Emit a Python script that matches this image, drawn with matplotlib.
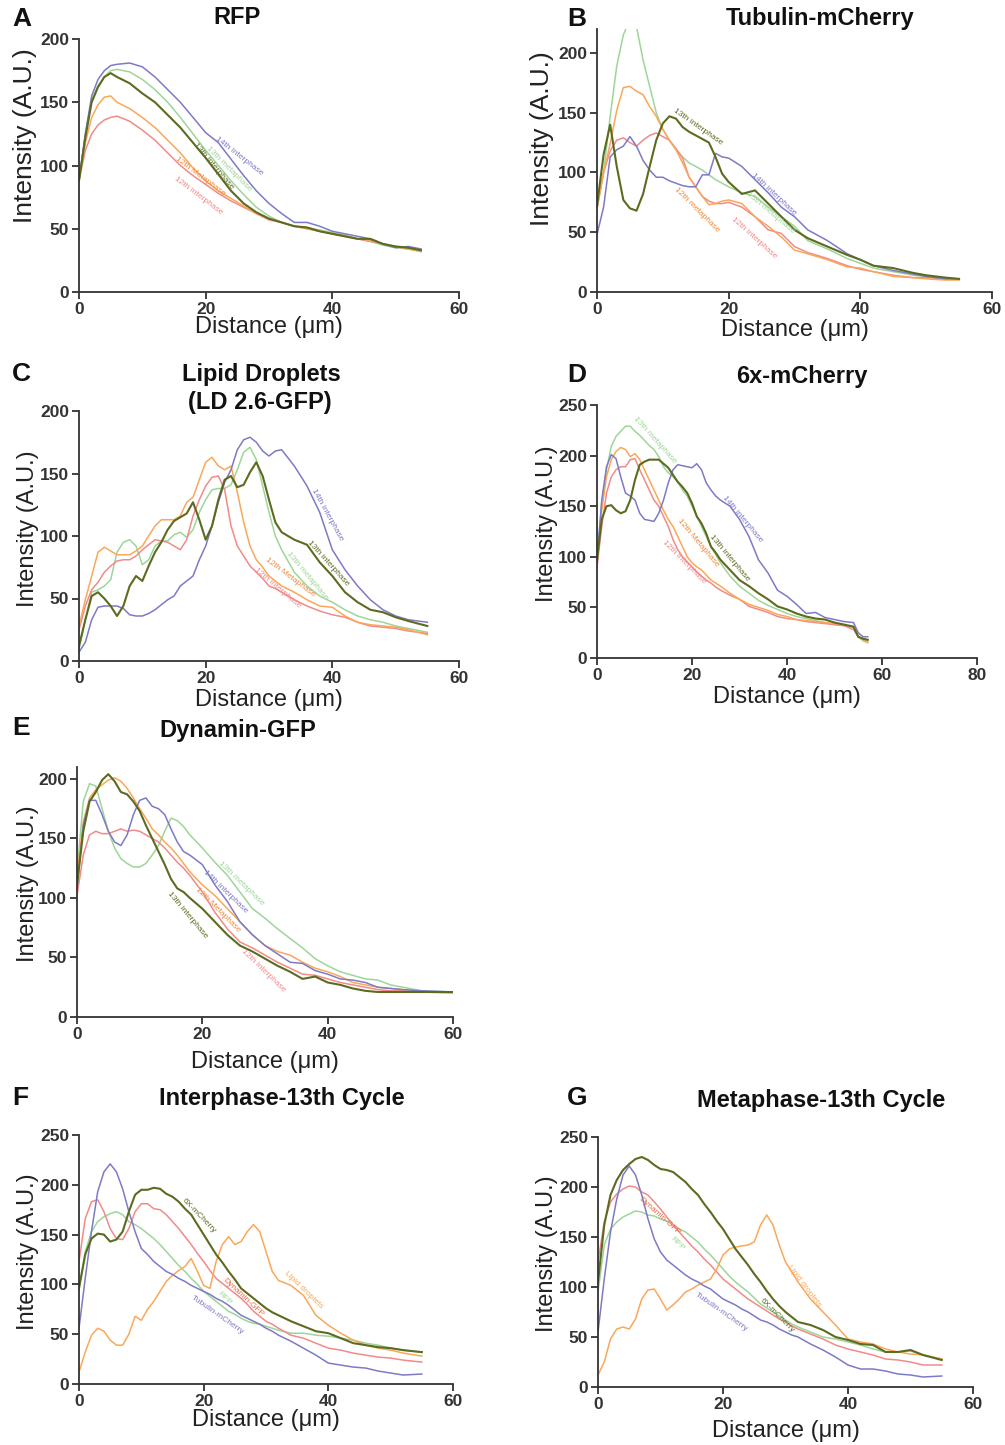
import matplotlib
matplotlib.use("Agg")
import matplotlib.pyplot as plt

plt.rcParams['font.family'] = ['Liberation Sans', 'DejaVu Sans']

W, H = 1005, 1445

PINK = "#F28A8A"
ORANGE = "#F9A85A"
OLIVE = "#5D6B20"
GREEN = "#9DD698"
PURPLE = "#7D7AC6"

# ---- A: RFP ----
A_X = [0, 1, 2, 3, 4, 5, 6, 8, 10, 12, 14, 16, 18, 20, 22, 24, 26, 28, 30, 32, 34, 36, 38, 40, 42, 44, 46, 48, 50, 52, 54]
A_12I = [88, 112, 125, 132, 136, 138, 139, 135, 128, 120, 110, 100, 92, 85, 78, 72, 67, 62, 57, 55, 52, 50, 48, 46, 44, 42, 40, 38, 36, 34, 33]
A_12M = [88, 118, 138, 148, 154, 155, 150, 145, 138, 130, 120, 110, 98, 88, 80, 74, 68, 62, 58, 55, 52, 50, 48, 46, 44, 42, 41, 38, 36, 34, 32]
A_13I = [88, 122, 150, 162, 170, 173, 170, 165, 157, 150, 140, 130, 118, 106, 93, 80, 70, 63, 58, 55, 52, 51, 48, 46, 44, 42, 42, 38, 36, 35, 33]
A_13M = [88, 125, 152, 163, 170, 175, 176, 174, 168, 160, 150, 138, 125, 112, 100, 88, 77, 67, 60, 55, 52, 51, 49, 47, 45, 42, 40, 37, 35, 34, 32]
A_14I = [88, 125, 155, 168, 175, 179, 180, 181, 178, 170, 160, 150, 138, 126, 118, 105, 92, 80, 70, 62, 55, 55, 52, 48, 46, 44, 42, 38, 35, 36, 34]

# ---- B: Tubulin-mCherry ----
B_X = [0, 1, 2, 3, 4, 5, 6, 7, 8, 9, 10, 11, 12, 13, 14, 15, 16, 17, 18, 19, 20, 22, 24, 26, 28, 30, 32, 35, 38, 40, 42, 45, 48, 50, 53, 55]
B_12I = [70, 100, 118, 127, 129, 125, 122, 127, 131, 133, 130, 127, 120, 112, 96, 88, 80, 76, 74, 74, 75, 71, 63, 52, 49, 38, 33, 28, 22, 19, 17, 14, 12, 12, 11, 11]
B_12M = [70, 100, 124, 152, 171, 172, 168, 165, 155, 147, 136, 127, 119, 108, 96, 88, 80, 73, 74, 76, 77, 74, 63, 55, 46, 35, 32, 27, 21, 20, 17, 13, 12, 11, 10, 10]
B_13I = [72, 115, 140, 105, 77, 70, 68, 82, 105, 127, 141, 147, 145, 138, 134, 131, 128, 125, 113, 99, 92, 82, 85, 74, 63, 52, 45, 38, 31, 27, 22, 20, 16, 14, 12, 11]
B_13M = [70, 100, 147, 189, 215, 228, 222, 194, 172, 150, 136, 127, 119, 113, 108, 105, 102, 98, 94, 91, 88, 83, 80, 71, 63, 55, 43, 36, 28, 24, 20, 17, 14, 13, 11, 11]
B_14I = [48, 71, 113, 119, 122, 130, 122, 110, 102, 96, 96, 93, 91, 89, 88, 88, 98, 98, 116, 113, 112, 105, 94, 83, 71, 63, 52, 43, 32, 27, 22, 18, 15, 13, 11, 11]

# ---- C: Lipid droplets ----
C_X = [0, 1, 2, 3, 4, 5, 6, 7, 8, 9, 10, 11, 12, 13, 14, 15, 16, 17, 18, 19, 20, 21, 22, 23, 24, 25, 26, 27, 28, 29, 30, 31,
       32, 34, 36, 38, 40, 42, 44, 46, 48, 50, 52, 55]
C_12I = [25, 44, 57, 63, 71, 76, 80, 81, 81, 84, 89, 93, 97, 96, 95, 92, 89, 97, 116, 129, 140, 147, 148, 137, 108, 92, 84, 76, 71, 66, 60, 58,
         55, 49, 44, 40, 37, 35, 31, 28, 27, 26, 24, 22]
C_12M = [28, 49, 68, 87, 91, 88, 85, 85, 85, 88, 92, 100, 108, 113, 113, 113, 116, 127, 131, 145, 159, 163, 156, 153, 156, 135, 111, 92, 81, 75, 68, 64,
         60, 55, 49, 44, 43, 36, 31, 29, 28, 27, 25, 21]
C_13I = [12, 33, 52, 55, 50, 44, 36, 44, 60, 68, 64, 76, 87, 95, 105, 112, 115, 118, 127, 113, 97, 108, 129, 145, 148, 139, 141, 151, 159, 148, 129, 111,
         103, 97, 93, 79, 68, 55, 47, 41, 39, 35, 32, 28]
C_13M = [9, 33, 55, 57, 60, 65, 87, 95, 97, 92, 77, 81, 92, 96, 96, 101, 103, 99, 105, 119, 129, 137, 138, 138, 141, 153, 167, 171, 161, 140, 119, 100,
         89, 71, 60, 52, 47, 41, 36, 33, 31, 28, 26, 23]
C_14I = [7, 15, 33, 43, 44, 44, 44, 42, 37, 36, 36, 38, 41, 45, 49, 52, 60, 64, 68, 81, 92, 108, 127, 143, 153, 169, 177, 179, 175, 168, 164, 168,
         169, 156, 140, 119, 89, 73, 60, 49, 41, 36, 33, 31]

# ---- D: 6x-mCherry ----
D_X = [0, 1, 2, 3, 4, 5, 6, 7, 8, 9, 10, 11, 12, 13, 14, 15, 16, 17, 18, 19, 20, 21, 22, 23, 24, 25,
       26, 28, 30, 32, 34, 36, 38, 40, 42, 44, 46, 48, 50, 52, 54, 55, 56, 57]
D_12I = [90, 130, 163, 179, 186, 189, 189, 196, 197, 186, 176, 166, 156, 150, 140, 130, 117, 107, 100, 95, 90, 85, 81, 77, 74, 70,
         67, 62, 58, 51, 48, 45, 41, 39, 38, 36, 35, 34, 33, 32, 28, 21, 19, 18]
D_12M = [94, 146, 179, 196, 204, 208, 206, 199, 202, 196, 186, 176, 166, 156, 146, 137, 130, 120, 110, 100, 94, 90, 87, 82, 77, 74,
         71, 64, 58, 53, 50, 47, 43, 41, 38, 37, 36, 35, 34, 33, 30, 21, 18, 16]
D_13I = [97, 137, 150, 151, 146, 143, 145, 156, 176, 191, 194, 196, 196, 196, 192, 188, 181, 174, 169, 163, 153, 140, 133, 123, 110, 104,
         97, 87, 77, 71, 64, 58, 51, 48, 44, 41, 39, 38, 35, 33, 31, 21, 19, 18]
D_13M = [90, 153, 186, 209, 219, 224, 229, 229, 224, 220, 215, 210, 206, 199, 189, 183, 179, 174, 166, 160, 150, 140, 130, 120, 110, 102,
         94, 81, 71, 64, 57, 52, 48, 44, 41, 39, 37, 35, 33, 32, 31, 21, 17, 15]
D_14I = [97, 156, 189, 201, 197, 179, 163, 160, 156, 143, 137, 136, 135, 143, 156, 173, 186, 191, 190, 189, 188, 192, 186, 173, 166, 160,
         156, 150, 137, 120, 97, 84, 67, 61, 53, 44, 45, 40, 38, 36, 35, 25, 21, 21]

# ---- E: Dynamin-GFP ----
E_X = [0, 1, 2, 3, 4, 5, 6, 7, 8, 9, 10, 11, 12, 13, 14, 15, 16, 17, 18,
       20, 22, 24, 26, 28, 30, 32, 34, 36, 38, 40, 42, 44, 46, 48, 50, 52, 55, 60]
E_12I = [102, 136, 153, 156, 154, 154, 156, 158, 156, 157, 156, 153, 150, 147, 142, 136, 130, 125, 119,
         105, 88, 74, 63, 58, 52, 46, 41, 36, 35, 32, 29, 27, 25, 23, 22, 22, 21, 21]
E_12M = [119, 164, 184, 191, 195, 199, 201, 198, 192, 184, 175, 167, 158, 153, 147, 142, 136, 129, 122,
         111, 102, 91, 80, 69, 60, 55, 52, 46, 41, 38, 34, 29, 27, 25, 24, 23, 21, 20]
E_13I = [111, 156, 181, 189, 199, 204, 198, 189, 187, 181, 173, 161, 150, 139, 128, 116, 108, 105, 100,
         91, 80, 69, 60, 55, 49, 43, 38, 32, 34, 29, 27, 24, 22, 21, 21, 21, 21, 21]
E_13M = [122, 181, 196, 194, 175, 156, 142, 133, 129, 126, 126, 129, 136, 144, 156, 167, 165, 160, 153,
         142, 130, 119, 105, 91, 83, 74, 66, 58, 49, 43, 38, 35, 32, 31, 27, 25, 22, 21]
E_14I = [108, 161, 182, 182, 170, 156, 147, 144, 153, 170, 182, 184, 177, 175, 170, 158, 147, 139, 136,
         128, 111, 97, 80, 69, 60, 53, 46, 45, 39, 36, 32, 31, 29, 25, 24, 23, 22, 21]

# ---- F: Interphase-13th cycle ----
F_X = [0, 1, 2, 3, 4, 5, 6, 7, 8, 9, 10, 11, 12, 13, 14, 15, 16, 17, 18, 19, 20, 21, 22, 23, 24, 25, 26, 27, 28, 29, 30, 31,
       32, 34, 36, 38, 40, 42, 44, 46, 48, 50, 52, 55]
F_RFP = [96, 133, 153, 163, 168, 171, 173, 170, 163, 160, 156, 151, 146, 140, 133, 126, 119, 113, 106, 100, 93, 88, 83, 78, 73, 70, 66, 63, 61, 60, 58, 56,
         54, 51, 51, 49, 48, 46, 44, 41, 39, 36, 34, 32]
F_TUB = [56, 106, 153, 193, 213, 221, 213, 196, 173, 153, 136, 130, 123, 118, 113, 110, 106, 103, 99, 96, 93, 90, 86, 83, 79, 74, 69, 66, 63, 60, 56, 53,
         49, 43, 36, 29, 21, 19, 17, 16, 13, 11, 9, 10]
F_DYN = [123, 166, 183, 185, 173, 156, 146, 145, 156, 173, 181, 181, 176, 175, 170, 163, 156, 148, 140, 131, 123, 114, 106, 101, 96, 91, 86, 80, 73, 68, 63, 60,
         56, 49, 46, 41, 36, 34, 31, 29, 27, 26, 24, 22]
F_6X = [96, 130, 146, 151, 150, 143, 145, 153, 173, 190, 195, 195, 197, 196, 191, 188, 183, 176, 170, 160, 150, 140, 130, 122, 113, 105, 96, 91, 86, 81, 76, 72,
        69, 63, 58, 53, 51, 46, 41, 39, 37, 36, 34, 32]
F_LIP = [12, 32, 49, 56, 53, 44, 39, 39, 50, 68, 64, 75, 83, 93, 103, 109, 114, 118, 126, 113, 99, 96, 123, 140, 148, 140, 143, 153, 160, 153, 133, 113,
         104, 99, 89, 69, 59, 51, 44, 39, 36, 34, 31, 28]

# ---- G: Metaphase-13th cycle ----
G_X = F_X
G_RFP = [95, 142, 158, 165, 170, 173, 176, 175, 172, 171, 168, 166, 162, 158, 155, 150, 145, 138, 132, 125, 118, 111, 105, 100, 95, 89, 83, 79, 75, 71, 67, 63,
         60, 55, 50, 48, 45, 42, 38, 35, 35, 36, 32, 28]
G_TUB = [55, 108, 155, 188, 212, 221, 212, 192, 168, 148, 135, 127, 122, 117, 112, 108, 105, 101, 98, 93, 88, 85, 82, 78, 75, 71, 67, 65, 62, 58, 55, 52,
         50, 43, 37, 30, 22, 18, 18, 16, 13, 12, 10, 11]
G_DYN = [125, 165, 185, 193, 198, 201, 200, 195, 192, 185, 178, 170, 162, 155, 148, 141, 135, 128, 122, 115, 108, 103, 98, 93, 88, 84, 80, 76, 72, 68, 65, 61,
         58, 53, 48, 42, 38, 35, 32, 28, 27, 25, 22, 22]
G_6X = [105, 162, 192, 207, 217, 223, 228, 230, 227, 222, 218, 217, 215, 210, 205, 198, 192, 183, 175, 166, 158, 148, 138, 130, 122, 113, 105, 96, 88, 81, 75, 70,
        65, 62, 57, 50, 47, 43, 42, 35, 35, 37, 32, 27]
G_LIP = [12, 25, 48, 58, 60, 58, 68, 88, 97, 98, 88, 77, 82, 88, 95, 98, 102, 105, 108, 118, 132, 138, 140, 141, 142, 145, 162, 172, 162, 142, 125, 115,
         105, 88, 75, 62, 48, 45, 43, 38, 35, 33, 32, 28]


def px_rect(left, top, right, bottom):
    return [left / W, 1 - bottom / H, (right - left) / W, (bottom - top) / H]


fig = plt.figure(figsize=(W / 100, H / 100), dpi=100)


def panel(rect, xs, curves, ylim, yticks, xticks, labels, ylab_pos, xlab_y, ylab_size=17):
    ax = fig.add_axes(rect)
    for ys, c in curves:
        ax.plot(xs, ys, color=c, lw=1.5 if c == OLIVE else 1.1)
    ax.set_xlim(xticks[0], xticks[-1])
    ax.set_ylim(*ylim)
    ax.set_xticks(xticks)
    ax.set_xticklabels([str(t) for t in xticks], fontweight='bold')
    ax.set_yticks(yticks)
    ax.set_yticklabels([str(t) for t in yticks], fontweight='bold')
    for s in ['top', 'right']:
        ax.spines[s].set_visible(False)
    for s in ['left', 'bottom']:
        ax.spines[s].set_linewidth(1.3)
        ax.spines[s].set_color('#333333')
    ax.tick_params(direction='out', length=5, width=1.3, color='#333333',
                   labelsize=12.5, labelcolor='#333333', pad=2)
    ax.set_xlabel("Distance (\u03bcm)", fontsize=17, va='center', color='#222222')
    ax.xaxis.set_label_coords(0.5, xlab_y)
    ax.set_ylabel("Intensity (A.U.)", fontsize=ylab_size, va='center', color='#222222')
    ax.yaxis.set_label_coords(*ylab_pos)
    for txt, x, y, ang, c in labels:
        ax.text(x, y, txt, rotation=ang, color=c, fontsize=6, ha='center', va='center',
                rotation_mode='anchor')
    return ax


TICKS60 = [0, 20, 40, 60]
Y200 = [0, 50, 100, 150, 200]
Y250 = [0, 50, 100, 150, 200, 250]
LBL_ORANGE = "#F08A3A"

panel(px_rect(79, 39, 459, 292), A_X,
      [(A_13M, GREEN), (A_12I, PINK), (A_12M, ORANGE), (A_14I, PURPLE), (A_13I, OLIVE)],
      (0, 200), Y200, TICKS60,
      [("14th interphase", 25.3, 107, -38, PURPLE),
       ("13th metaphase", 23.7, 97, -45, GREEN),
       ("13th interphase", 21.2, 99.5, -50, OLIVE),
       ("12th Metaphase", 19.1, 91.6, -37, LBL_ORANGE),
       ("12th interphase", 18.9, 76, -37, PINK)],
      (-0.142, 0.62), -0.139, ylab_size=19)

panel(px_rect(597, 29, 992, 292), B_X,
      [(B_13M, GREEN), (B_12I, PINK), (B_12M, ORANGE), (B_14I, PURPLE), (B_13I, OLIVE)],
      (0, 220), Y200, TICKS60,
      [("13th interphase", 15.3, 138, -35, OLIVE),
       ("14th interphase", 26.8, 82, -43, PURPLE),
       ("13th metaphase", 26.3, 66, -40, GREEN),
       ("12th metaphase", 15.2, 68.5, -45, LBL_ORANGE),
       ("12th interphase", 23.8, 45, -42, PINK)],
      (-0.138, 0.585), -0.144, ylab_size=19)

panel(px_rect(79, 411, 459, 661), C_X,
      [(C_13M, GREEN), (C_12I, PINK), (C_12M, ORANGE), (C_14I, PURPLE), (C_13I, OLIVE)],
      (0, 200), Y200, TICKS60,
      [("14th interphase", 39.2, 117, -61, PURPLE),
       ("13th interphase", 39.3, 78, -48, OLIVE),
       ("13th metaphase", 36.0, 68, -50, GREEN),
       ("12th Metaphase", 33.4, 67, -37, LBL_ORANGE),
       ("12th interphase", 31.3, 58, -40, PINK)],
      (-0.134, 0.528), -0.156)

panel(px_rect(597, 405, 977, 658), D_X,
      [(D_13M, GREEN), (D_12I, PINK), (D_12M, ORANGE), (D_14I, PURPLE), (D_13I, OLIVE)],
      (0, 250), Y250, [0, 20, 40, 60, 80],
      [("13th metaphase", 12.1, 215, -48, GREEN),
       ("14th interphase", 30.7, 137, -50, PURPLE),
       ("13th interphase", 27.9, 99, -50, OLIVE),
       ("12th Metaphase", 21.2, 114, -50, LBL_ORANGE),
       ("12th interphase", 18.4, 95, -45, PINK)],
      (-0.132, 0.53), -0.154)

panel(px_rect(77, 767, 453, 1017), E_X,
      [(E_13M, GREEN), (E_12I, PINK), (E_12M, ORANGE), (E_14I, PURPLE), (E_13I, OLIVE)],
      (0, 210), Y200, TICKS60,
      [("13th metaphase", 26.2, 112, -44, GREEN),
       ("14th interphase", 23.6, 105, -44, PURPLE),
       ("12th Metaphase", 22.5, 90, -45, LBL_ORANGE),
       ("13th interphase", 17.6, 86, -50, OLIVE),
       ("12th interphase", 29.7, 39, -44, PINK)],
      (-0.13, 0.532), -0.18)

panel(px_rect(79, 1135, 453, 1384), F_X,
      [(F_RFP, GREEN), (F_DYN, PINK), (F_LIP, ORANGE), (F_TUB, PURPLE), (F_6X, OLIVE)],
      (0, 250), Y250, TICKS60,
      [("6X-mCherry", 19.2, 169, -46, OLIVE),
       ("Lipid droplets", 36.1, 94, -44, ORANGE),
       ("Dynamin-GFP", 26.4, 87, -43, "#E8683E"),
       ("RFP", 23.4, 86, -43, GREEN),
       ("Tubulin-mCherry", 22.2, 69, -35, PURPLE)],
      (-0.136, 0.53), -0.145)

panel(px_rect(598, 1137, 973, 1387), G_X,
      [(G_RFP, GREEN), (G_DYN, PINK), (G_LIP, ORANGE), (G_TUB, PURPLE), (G_6X, OLIVE)],
      (0, 250), Y250, TICKS60,
      [("Dynamin-GFP", 9.8, 171, -42, "#E8683E"),
       ("RFP", 12.7, 143, -45, GREEN),
       ("Tubulin-mCherry", 19.8, 75, -35, PURPLE),
       ("6X-mCherry", 28.7, 71, -45, OLIVE),
       ("Lipid droplets", 33.0, 101, -53, ORANGE)],
      (-0.136, 0.532), -0.177)

# panel titles
titles = [("RFP", 237, 18), ("Tubulin-mCherry", 820, 19), ("Lipid Droplets", 261, 375),
          ("(LD 2.6-GFP)", 260, 403), ("6x-mCherry", 802, 377), ("Dynamin-GFP", 238, 730),
          ("Interphase-13th Cycle", 282, 1098), ("Metaphase-13th Cycle", 821, 1100)]
for t, x, y in titles:
    fig.text(x / W, 1 - y / H, t, fontsize=17, fontweight='bold', ha='center', va='center',
             color='#111111')

letters = [("A", 12, 19), ("B", 567, 19), ("C", 12, 374), ("D", 567, 375),
           ("E", 12, 728), ("F", 12, 1098), ("G", 567, 1098)]
for t, x, y in letters:
    fig.text(x / W, 1 - y / H, t, fontsize=19, fontweight='bold', ha='left', va='center',
             color='#111111')

fig.savefig("out.png", dpi=100)
